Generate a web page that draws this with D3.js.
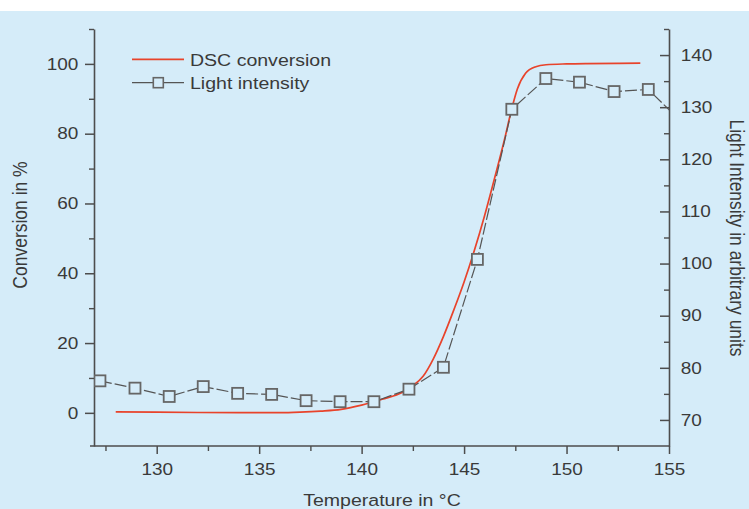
<!DOCTYPE html>
<html><head><meta charset="utf-8">
<script src="https://cdn.jsdelivr.net/npm/d3@7"></script>
<style>
html,body{margin:0;padding:0;background:#fff;}
svg{display:block;}
text{font-family:"Liberation Sans",Arial,Helvetica,sans-serif;fill:#3a3a3a;}
</style></head><body>
<svg id="c" width="749" height="509"></svg>
<script>
// ---- data ----
const dscTemp = [128.0,130,132,134,136,137,138,139,140,141,142,142.5,143,143.5,144,144.5,145,145.5,146,146.5,147,147.3,147.6,148,148.5,149,150,151,152.5,153.6];
const dscConv = [0.3,0.2,0.1,0.05,0.05,0.2,0.5,1.0,2.2,3.9,5.9,7.8,10.5,15.5,22,29.5,37.5,46.5,56.5,67.5,79,86.5,92.8,97.3,99.2,99.75,100,100.1,100.15,100.2];
const lightTemp = [127.23,128.94,130.61,132.27,133.95,135.61,137.29,138.95,140.6,142.31,143.99,145.65,147.33,148.99,150.63,152.32,153.99,155.66];
const lightVal  = [77.5,76.1,74.5,76.4,75.1,74.9,73.7,73.5,73.5,75.9,80.1,100.8,129.6,135.5,134.8,133.0,133.4,127.0];
const xTicks = [130,135,140,145,150,155];
const xMinor = [127.5,132.5,137.5,142.5,147.5,152.5];
const yLeftTicks = [0,20,40,60,80,100];
const yLeftMinor = [10,30,50,70,90,110];
const yRightTicks = [70,80,90,100,110,120,130,140];
const yRightMinor = [75,85,95,105,115,125,135,145];
const legendLabels = ["DSC conversion","Light intensity"];
const xTitle = "Temperature in °C";
const yLeftTitle = "Conversion in %";
const yRightTitle = "Light Intensity in arbitrary units";

// ---- layout ----
const W=749,H=509, L=94, R=669, T=29, B=446;
const SX=1.15; // horizontal stretch of text
const bg="#d5ecf9", axisCol="#4d4d4d", red="#e8432b", grey="#666";

const svg=d3.select("#c");
svg.append("rect").attr("x",0).attr("y",11).attr("width",W).attr("height",H-11).attr("fill",bg);

const x=d3.scaleLinear().domain([126.94,155]).range([L,R]);
const yL=d3.scaleLinear().domain([-9.5,110]).range([B,T]);
const yR=d3.scaleLinear().domain([65,145]).range([B,T]);

function styleAxis(g){
  g.select(".domain").attr("stroke",axisCol).attr("stroke-width",1.6);
  g.selectAll(".tick line").attr("stroke",axisCol).attr("stroke-width",1.5);
  g.selectAll("text").style("font-size","16.5px").attr("fill","#3a3a3a");
}

// minor ticks
const gxm=svg.append("g").attr("transform",`translate(0,${B})`)
  .call(d3.axisBottom(x).tickValues(xMinor).tickSize(5).tickFormat(""));
gxm.select(".domain").remove();
gxm.selectAll(".tick line").attr("stroke",axisCol).attr("stroke-width",1.4);
const gylm=svg.append("g").attr("transform",`translate(${L},0)`)
  .call(d3.axisLeft(yL).tickValues(yLeftMinor).tickSize(5).tickFormat(""));
gylm.select(".domain").remove();
gylm.selectAll(".tick line").attr("stroke",axisCol).attr("stroke-width",1.4);
const gyrm=svg.append("g").attr("transform",`translate(${R},0)`)
  .call(d3.axisRight(yR).tickValues(yRightMinor).tickSize(-5).tickFormat(""));
gyrm.select(".domain").remove();
gyrm.selectAll(".tick line").attr("stroke",axisCol).attr("stroke-width",1.4);

// major axes
const gx=svg.append("g").attr("transform",`translate(0,${B})`)
  .call(d3.axisBottom(x).tickValues(xTicks).tickSizeInner(8).tickSizeOuter(0).tickFormat(d3.format("d")));
styleAxis(gx);
gx.select(".domain").attr("d",`M${L-4},0H${R}`);
gx.selectAll("text").attr("y",17.3).attr("transform",`scale(${SX},1)`);

const gyl=svg.append("g").attr("transform",`translate(${L},0)`)
  .call(d3.axisLeft(yL).tickValues(yLeftTicks).tickSizeInner(9).tickSizeOuter(0).tickFormat(d3.format("d")));
styleAxis(gyl);
gyl.selectAll("text").attr("x",-15.7/SX).attr("transform",`scale(${SX},1)`);

const gyr=svg.append("g").attr("transform",`translate(${R},0)`)
  .call(d3.axisRight(yR).tickValues(yRightTicks).tickSizeInner(-9).tickSizeOuter(0).tickFormat(d3.format("d")));
styleAxis(gyr);
gyr.selectAll("text").attr("x",11.7/SX).attr("transform",`scale(${SX},1)`);

// clip
svg.append("clipPath").attr("id","clip").append("rect").attr("x",L).attr("y",T-10).attr("width",R-L).attr("height",B-T+10);

// DSC curve
const dsc=dscTemp.map((t,i)=>[t,dscConv[i]]);
svg.append("path").datum(dsc)
  .attr("d",d3.line().x(d=>x(d[0])).y(d=>yL(d[1])).curve(d3.curveMonotoneX))
  .attr("fill","none").attr("stroke",red).attr("stroke-width",1.7);

// Light intensity
const light=lightTemp.map((t,i)=>[t,lightVal[i]]);
const gl=svg.append("g").attr("clip-path","url(#clip)");
gl.append("path").datum(light)
  .attr("d",d3.line().x(d=>x(d[0])).y(d=>yR(d[1])))
  .attr("fill","none").attr("stroke","#555").attr("stroke-width",1.2).attr("stroke-dasharray","12,3");
const S=11;
gl.selectAll("rect.m").data(light).enter().append("rect").attr("class","m")
  .attr("x",d=>x(d[0])-S/2).attr("y",d=>yR(d[1])-S/2).attr("width",S).attr("height",S)
  .attr("fill",bg).attr("stroke",grey).attr("stroke-width",1.8);

// legend
const lg=svg.append("g");
lg.append("line").attr("x1",132).attr("x2",184).attr("y1",59.3).attr("y2",59.3).attr("stroke",red).attr("stroke-width",1.8);
lg.append("line").attr("x1",132).attr("x2",184).attr("y1",82.7).attr("y2",82.7).attr("stroke","#555").attr("stroke-width",1.2);
lg.append("rect").attr("x",158.3-5).attr("y",82.7-5).attr("width",10).attr("height",10).attr("fill",bg).attr("stroke",grey).attr("stroke-width",1.6);
lg.selectAll("text").data(legendLabels).enter().append("text")
  .attr("x",190/SX).attr("y",(d,i)=>[66,89.5][i]).attr("transform",`scale(${SX},1)`)
  .style("font-size","17px").text(d=>d);

// titles
svg.append("text").attr("transform",`translate(382,506) scale(${SX},1)`).attr("text-anchor","middle")
  .style("font-size","17px").text(xTitle);
svg.append("text").attr("transform",`translate(27,225) scale(${SX},1) rotate(-90)`).attr("text-anchor","middle")
  .style("font-size","17.5px").text(yLeftTitle);
svg.append("text").attr("transform",`translate(730,238) scale(${SX},1) rotate(90)`).attr("text-anchor","middle")
  .style("font-size","17.5px").text(yRightTitle);
</script>
</body></html>
